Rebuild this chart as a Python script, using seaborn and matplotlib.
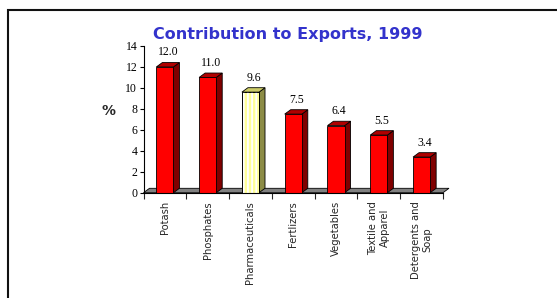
import matplotlib
matplotlib.use("Agg")
import matplotlib.pyplot as plt
import seaborn as sns
import pandas as pd
from matplotlib.patches import Polygon, Rectangle

# ---- data ----
categories = ["Potash", "Phosphates", "Pharmaceuticals", "Fertlizers",
              "Vegetables", "Textile and\nApparel", "Detergents and\nSoap"]
values = [12.0, 11.0, 9.6, 7.5, 6.4, 5.5, 3.4]
value_labels = ["12.0", "11.0", "9.6", "7.5", "6.4", "5.5", "3.4"]
y_ticks = [0, 2, 4, 6, 8, 10, 12, 14]
highlight = "Pharmaceuticals"
title = "Contribution to Exports, 1999"
y_label = "%"

sns.set_style("ticks")
plt.rcParams["font.family"] = ["DejaVu Sans"]
plt.rcParams["hatch.linewidth"] = 1.3

W, H = 557, 298
ax_left, ax_right, ax_bottom, ax_top = 143.5, 443.0, 192.7, 46.0
fig = plt.figure(figsize=(W / 100, H / 100), dpi=100)
ax = fig.add_axes([ax_left / W, (H - ax_bottom) / H,
                   (ax_right - ax_left) / W, (ax_bottom - ax_top) / H])

df = pd.DataFrame({"cat": categories, "val": values})
front = {c: ("#FFFF99" if c == highlight else "#FF0000") for c in categories}
side_c = {c: ("#8C8C46" if c == highlight else "#800000") for c in categories}
top_c = {c: ("#CCCC66" if c == highlight else "#B00000") for c in categories}

sns.barplot(data=df, x="cat", y="val", hue="cat", palette=front, width=0.4,
            dodge=False, legend=False, edgecolor="black", linewidth=0.6,
            saturation=1, ax=ax, zorder=3)

ax.set_xlim(-0.5, 6.5)
ax.set_ylim(0, 14)

dx, dy = 0.14, 0.42
serif = ["Liberation Serif", "DejaVu Serif"]

# floor
floor = Polygon([(-0.5, 0), (6.5, 0), (6.5 + dx, dy), (-0.5 + dx, dy)],
                closed=True, facecolor="#808080", edgecolor="black",
                linewidth=0.6, zorder=1.5, clip_on=False)
ax.add_patch(floor)

for p in list(ax.patches):
    if p is floor:
        continue
    x, w, h = p.get_x(), p.get_width(), p.get_height()
    if w <= 0 or h <= 0:
        continue
    i = int(round(x + w / 2))
    c = categories[i]
    side = Polygon([(x + w, 0), (x + w, h), (x + w + dx, h + dy), (x + w + dx, dy)],
                   closed=True, facecolor=side_c[c], edgecolor="black",
                   linewidth=0.6, zorder=2.8, clip_on=False)
    top = Polygon([(x, h), (x + w, h), (x + w + dx, h + dy), (x + dx, h + dy)],
                  closed=True, facecolor=top_c[c], edgecolor="black",
                  linewidth=0.6, zorder=2.8, clip_on=False)
    ax.add_patch(side)
    ax.add_patch(top)
    if c == highlight:
        ax.add_patch(Rectangle((x, 0), w, h, fill=False, hatch="||||",
                               edgecolor="white", linewidth=0, zorder=3.5))
        ax.add_patch(Rectangle((x, 0), w, h, fill=False, edgecolor="black",
                               linewidth=0.6, zorder=3.6))
    ax.annotate(value_labels[i], (x + w / 2 + dx / 2, h + dy),
                xytext=(0, 3), textcoords="offset points",
                ha="center", va="bottom", fontsize=8.5, family=serif,
                color="black", zorder=5)

# axes styling
for s in ["top", "right"]:
    ax.spines[s].set_visible(False)
for s in ["left", "bottom"]:
    ax.spines[s].set_color("black")
    ax.spines[s].set_linewidth(0.8)
    ax.spines[s].set_zorder(4)

ax.set_yticks(y_ticks)
ax.set_yticklabels([str(t) for t in y_ticks], fontsize=8.5, family=serif)
ax.tick_params(axis="y", direction="out", length=3, width=0.8, pad=1.5, colors="black")

ax.set_xticks(range(len(categories)))
ax.set_xticklabels(categories, rotation=90, ha="center", va="top",
                   multialignment="center", fontsize=7.2)
ax.set_xticks([k - 0.5 for k in range(len(categories) + 1)], minor=True)
ax.tick_params(axis="x", which="major", length=0, pad=6)
ax.tick_params(axis="x", which="minor", direction="out", length=4, width=0.8)

ax.set_xlabel("")
ax.set_ylabel(y_label, rotation=0, fontweight="bold", fontsize=10,
              ha="center", va="center")
ax.yaxis.set_label_coords((108 - ax_left) / (ax_right - ax_left),
                          (ax_bottom - 110.7) / (ax_bottom - ax_top))

fig.text(287.5 / W, 1 - 39.3 / H, title, ha="center", va="baseline",
         color="#3333CC", fontweight="bold", fontsize=11.5)

# slide frame
fig.add_artist(Rectangle((7.7 / W, -0.2), 1.5, 1 - 10.3 / H + 0.2,
                         transform=fig.transFigure, fill=False,
                         edgecolor="#111111", linewidth=1.5))

fig.savefig("out.png", dpi=100)
